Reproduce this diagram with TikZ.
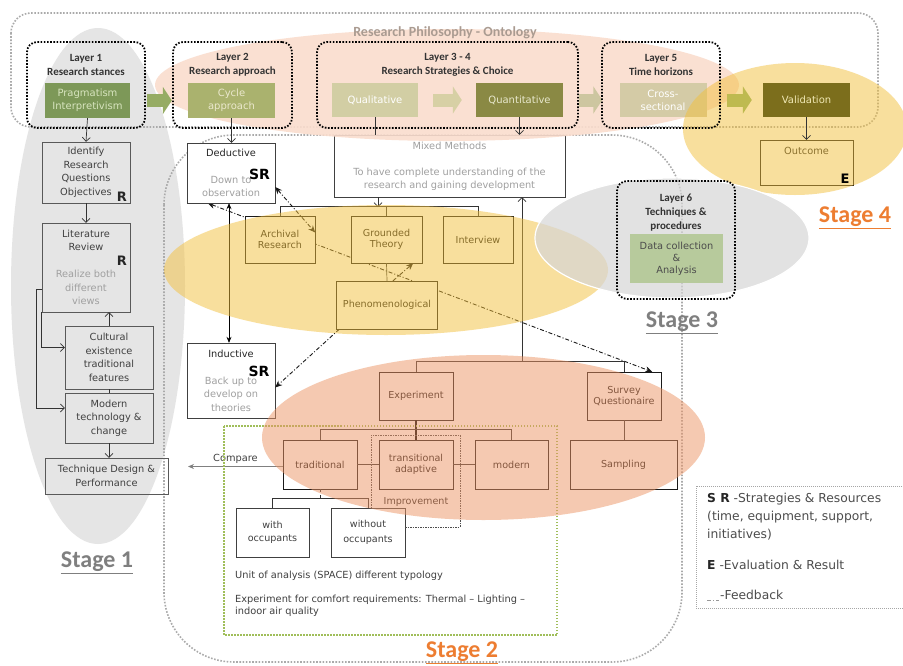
\documentclass[tikz,border=0pt]{standalone}
\usepackage{fontspec}
\setmainfont{DejaVu Sans}
\newfontfamily\calib{Carlito}
\usetikzlibrary{arrows.meta}

\definecolor{stagegray}{RGB}{229,229,229}
\definecolor{peach}{RGB}{250,221,206}
\definecolor{ovsalmon}{RGB}{237,148,100}
\definecolor{ovyellow}{RGB}{243,192,60}
\definecolor{ovgray}{RGB}{214,214,214}
\definecolor{stageorange}{RGB}{237,125,49}
\definecolor{labelgray}{RGB}{127,127,127}
\definecolor{txtgray}{RGB}{160,160,160}
\definecolor{dotgray}{RGB}{170,170,170}
\definecolor{philgray}{RGB}{170,155,145}
\definecolor{pragfill}{RGB}{125,152,88}
\definecolor{pragtext}{RGB}{215,228,190}
\definecolor{cyclefill}{RGB}{170,178,110}
\definecolor{cycletext}{RGB}{235,232,205}
\definecolor{qualfill}{RGB}{210,206,164}
\definecolor{quantfill}{RGB}{138,137,68}
\definecolor{quanttext}{RGB}{232,232,205}
\definecolor{crossfill}{RGB}{212,203,166}
\definecolor{validfill}{RGB}{124,110,28}
\definecolor{validtext}{RGB}{240,232,180}
\definecolor{datafill}{RGB}{183,202,156}
\definecolor{olivedots}{RGB}{160,190,90}
\definecolor{arrowgreen}{RGB}{150,172,100}
\definecolor{arrowpale}{RGB}{215,208,165}
\definecolor{arrowtan}{RGB}{205,198,160}
\definecolor{arrowlime}{RGB}{190,186,80}

\pgfdeclarelayer{back}
\pgfdeclarelayer{lines}
\pgfsetlayers{back,lines,main}

\begin{document}
\begin{tikzpicture}[x=1pt,y=-1pt,>={Straight Barb[length=4pt,width=8pt]},
  plainbox/.style={draw=black!75,fill=white,align=center,inner sep=1pt,text=black!75,font=\fontsize{9.8}{13.5}\selectfont},
  stagebox/.style={plainbox,fill=none,draw=black!65},
  smallbox/.style={plainbox,draw=black!90,text=black!90,font=\fontsize{9.6}{11}\selectfont},
  layerbox/.style={draw=black,line width=1.8pt,dash pattern=on 1.6pt off 1.6pt,rounded corners=10pt},
  layertext/.style={font=\calib\bfseries\fontsize{11}{14}\selectfont,text=black!80,align=center,inner sep=0pt},
  greenbox/.style={align=center,font=\fontsize{10}{13}\selectfont,inner sep=1pt},
  graydots/.style={draw=dotgray,line width=1.6pt,dash pattern=on 1.6pt off 1.6pt},
  blockarr/.style={line width=13pt,-{Triangle[width=27pt,length=9pt]}},
  conn/.style={draw=black!80,line width=0.7pt},
  feedback/.style={draw=black!90,line width=0.9pt,dash pattern=on 4pt off 2pt on 1pt off 2pt,>={Stealth[length=7pt,width=6pt]}},
  rmark/.style={font=\bfseries\fontsize{13}{13}\selectfont,text=black!85,inner sep=0pt},
  srmark/.style={font=\bfseries\fontsize{14}{14}\selectfont,text=black,inner sep=0pt},
  stagelabel/.style={font=\calib\bfseries\fontsize{24}{26}\selectfont,inner sep=0pt},
  legtext/.style={font=\fontsize{12.3}{18}\selectfont,text=black!70,anchor=west,inner sep=0pt}]

\useasboundingbox (0,0) rectangle (903,665);
\begin{pgfonlayer}{back}
  \fill[white] (0,0) rectangle (903,665);
  \fill[stagegray] (98,286) ellipse [x radius=87pt,y radius=258pt];
\end{pgfonlayer}

% dotted frames
\draw[graydots,rounded corners=20pt] (11,13) rectangle (878,127);
\draw[graydots,rounded corners=70pt] (164,135) rectangle (682,662);

% mixed methods, partly under the philosophy band
\node[plainbox,minimum width=231pt,minimum height=62pt,font=\fontsize{9.8}{13}\selectfont] (mixed) at (449.5,166)
  {\textcolor{txtgray}{Mixed Methods}\\[13pt]\textcolor{txtgray}{To have complete understanding of the}\\\textcolor{txtgray}{research and gaining development}};

\fill[peach,fill opacity=0.9] (447,85) ellipse [x radius=292pt,y radius=56pt];
\node[font=\calib\bfseries\fontsize{14}{16}\selectfont,text=philgray] (philo) at (445,33) {Research Philosophy - Ontology};

% layers 1 - 5
\node[layerbox,minimum width=118pt,minimum height=86pt] (lay1) at (86,85) {};
\node[layertext] (lay1t) at (86,65) {Layer 1\\Research stances};
\node[greenbox,fill=pragfill,text=pragtext,minimum width=85pt,minimum height=35pt] (prag) at (87.5,100.5) {Pragmatism\\Interpretivism};

\node[layerbox,minimum width=119pt,minimum height=86pt] (lay2) at (232.5,85) {};
\node[layertext] (lay2t) at (232.5,65) {Layer 2\\Research approach};
\node[greenbox,fill=cyclefill,text=cycletext,minimum width=87pt,minimum height=35pt] (cycle) at (231.5,100.5) {Cycle\\approach};

\node[layerbox,minimum width=261pt,minimum height=86pt] (lay34) at (447.5,85) {};
\node[layertext] (lay34t) at (447.5,65) {Layer 3 - 4\\Research Strategies \& Choice};
\node[greenbox,fill=qualfill,text=white,minimum width=86pt,minimum height=34pt] (qual) at (375,100) {Qualitative};
\node[greenbox,fill=quantfill,text=quanttext,minimum width=87pt,minimum height=34pt] (quant) at (519.5,100) {Quantitative};

\node[greenbox,fill=crossfill,text=white,minimum width=87pt,minimum height=34pt] (cross) at (663,100) {Cross-\\sectional};

\draw[blockarr,draw=arrowgreen,shorten <=17pt,shorten >=16pt] (prag) -- (cycle);
\draw[blockarr,draw=arrowpale,shorten <=15pt,shorten >=14pt] (qual) -- (quant);
\draw[blockarr,draw=arrowtan,shorten <=16pt,shorten >=17pt] (quant) -- (cross);

\draw[conn] (qual.south) -- (qual.south |- mixed.north);
\draw[conn,->] (quant.south) -- (quant.south |- mixed.north);

% stage 1 column
\node[stagebox,minimum width=88pt,minimum height=61pt] (ident) at (86,172.5) {Identify\\Research\\Questions\\Objectives};
\node[rmark] (identr) at (122,197) {R};
\node[stagebox,minimum width=88pt,minimum height=89pt] (lit) at (86,267.5)
  {Literature\\Review\\[13.5pt]\textcolor{txtgray}{Realize both}\\\textcolor{txtgray}{different}\\\textcolor{txtgray}{views}};
\node[rmark] (litr) at (122,261) {R};
\node[stagebox,minimum width=88pt,minimum height=63pt] (cult) at (109,357.5) {Cultural\\existence\\traditional\\features};
\node[stagebox,minimum width=88pt,minimum height=50pt] (modn) at (109,418) {Modern\\technology \&\\change};
\node[stagebox,minimum width=123pt,minimum height=36pt] (tech) at (106.5,476) {Technique Design \&\\Performance};

\draw[conn,->] (prag.south) -- (ident.north);
\draw[conn,->] (ident.south) -- (lit.north);
\draw[conn,->] (cult.north) -- (cult.north |- lit.south);
\draw[conn] (cult.south) -- (modn.north);
\draw[conn,->] (modn.south) -- (modn.south |- tech.north);
\draw[conn,->] (lit.south west) |- ([yshift=10pt]cult.west);
\draw[conn,->] ([yshift=-22pt]lit.west) -- ++(-5,0) |- ([yshift=10pt]modn.west);

% deductive / inductive
\node[plainbox,minimum width=88pt,minimum height=60pt,font=\fontsize{9.8}{13}\selectfont] (deduct) at (231,173)
  {\textcolor{black!85}{Deductive}\\[14pt]\textcolor{txtgray}{Down to}\\\textcolor{txtgray}{observation}};
\node[srmark] (deductsr) at (259.5,174) {SR};
\node[plainbox,minimum width=88pt,minimum height=75pt] (induct) at (231,380.5)
  {\textcolor{black!85}{Inductive}\\[13.5pt]\textcolor{txtgray}{Back up to}\\\textcolor{txtgray}{develop on}\\\textcolor{txtgray}{theories}};
\node[srmark] (inductsr) at (259,371) {SR};

\draw[conn,->] (cycle.south) -- (cycle.south |- deduct.north);
\draw[conn,draw=black,{Stealth[length=6pt,width=5pt]}-{Stealth[length=6pt,width=5pt]}] ([xshift=-2pt]deduct.south) -- ([xshift=-2pt]induct.north);

% stage 3 strategies
\node[smallbox,minimum width=70pt,minimum height=47pt] (archival) at (280,239.5) {Archival\\Research};
\node[smallbox,minimum width=71pt,minimum height=47pt] (grounded) at (386.5,239.5) {Grounded\\Theory};
\node[smallbox,minimum width=70pt,minimum height=47pt] (interview) at (478,239.5) {Interview};
\node[smallbox,minimum width=101pt,minimum height=48pt] (phenom) at (387,305) {Phenomenological};

\draw[conn] (archival.north) -- ++(0,-9) -| (interview.north);
\draw[conn] (grounded.north) -- ++(0,-9);
\draw[conn,->] ([xshift=-71.5pt]mixed.south) -- ++(0,10);
\draw[conn] (grounded.south) -- (phenom.north);

% stage 2 experiment tree
\node[smallbox,minimum width=74pt,minimum height=48pt] (experiment) at (416,396) {Experiment};
\node[smallbox,minimum width=74pt,minimum height=48pt] (survey) at (624,396) {Survey\\Questionaire};
\node[smallbox,minimum width=107pt,minimum height=49pt] (sampling) at (623.5,464.5) {Sampling};
\node[smallbox,minimum width=74pt,minimum height=49pt] (traditional) at (320,464.5) {traditional};
\node[smallbox,minimum width=74pt,minimum height=49pt] (transitional) at (416,464.5) {transitional\\adaptive};
\node[smallbox,minimum width=73pt,minimum height=49pt] (modern) at (511.5,464.5) {modern};
\node[plainbox,minimum width=73pt,minimum height=49pt,font=\fontsize{9.6}{12.5}\selectfont] (withocc) at (272.5,532.5) {with\\occupants};
\node[plainbox,minimum width=74pt,minimum height=49pt,font=\fontsize{9.6}{14.5}\selectfont] (withoutocc) at (368,532.5) {without\\occupants};

\draw[conn,<-] ([xshift=72.5pt]mixed.south) -- ++(0,165);
\draw[conn] (experiment.north) -- ++(0,-10) -| (survey.north);
\draw[conn] (survey.south) -- (survey.south |- sampling.north);
\draw[line width=2.2pt,black] (experiment.south) -- (transitional.north);
\draw[conn] (traditional.north) -- ++(0,-10) -| (modern.north);
\draw[conn] (traditional.east) -- (transitional.west);
\draw[conn] (transitional.east) -- (modern.west);
\draw[conn,dashed] (traditional.south) -- ++(0,10);
\draw[conn] (withocc.north) -- ++(0,-9) -| (withoutocc.north);

\draw[black!70,line width=0.6pt,dash pattern=on 1.5pt off 1pt] ([yshift=5.5pt]withoutocc.east) -| (460,435) -| (371,508);
\node[font=\fontsize{9.6}{11}\selectfont,text=black!85] (improve) at (416,502) {Improvement};

\coordinate (cmpend) at (188,466.5);
\draw[gray,line width=0.8pt,-{Stealth[length=6pt,width=5pt]}] ([yshift=-2pt]traditional.west) -- (cmpend)
  node[midway,above=-1pt,font=\fontsize{9.8}{11}\selectfont,text=black!75] (cmplabel) {Compare};

% unit of analysis frame
\draw[olivedots,line width=1.5pt,dash pattern=on 1.5pt off 1.5pt] (224,426) rectangle (557,635);
\node[font=\fontsize{9.8}{12}\selectfont,text=black!75,anchor=west,inner sep=0pt] (unitnote) at (235,576) {Unit of analysis (SPACE) different typology};
\node[font=\fontsize{9.8}{12}\selectfont,text=black!75,anchor=west,align=left,inner sep=0pt] (comfnote) at (235,606)
  {Experiment for comfort requirements: Thermal -- Lighting --\\indoor air quality};

% feedback lines
\begin{pgfonlayer}{lines}
  \draw[feedback,<->] ([xshift=21pt]deduct.south west) -- ([xshift=-9pt]survey.north east);
\end{pgfonlayer}
\draw[feedback,<->] ([yshift=-14pt]deduct.east) -- ([yshift=7pt]archival.east);
\draw[feedback,->] ([xshift=3pt]phenom.south west) -- ([yshift=-7pt]induct.east);
\draw[feedback,->] ([xshift=6pt]phenom.north) -- ([xshift=-9pt]grounded.south east);

% outcome, under the stage 4 band
\node[plainbox,draw=black!90,minimum width=93pt,minimum height=45pt] (outcome) at (806.5,162.5) {};
\node[font=\fontsize{9.8}{11}\selectfont,text=black!85] (outcomet) at (806.5,151) {Outcome};

% stage bands
\fill[ovyellow,fill opacity=0.5] (386,270) ellipse [x radius=222pt,y radius=65pt];
\fill[ovsalmon,fill opacity=0.5] (483.5,437.5) ellipse [x radius=221.5pt,y radius=82.5pt];
\fill[ovyellow,fill opacity=0.5] (795,129) ellipse [x radius=112pt,y radius=66pt];
\filldraw[fill=ovgray,fill opacity=0.7,draw=white,line width=1.2pt] (672,238) ellipse [x radius=137pt,y radius=60pt];

% layer 5 and validation
\node[layerbox,minimum width=118pt,minimum height=86pt] (lay5) at (661,85) {};
\node[layertext] (lay5t) at (661,65) {Layer 5\\Time horizons};
\node[greenbox,fill=validfill,text=validtext,minimum width=87pt,minimum height=34pt] (valid) at (806.5,100) {Validation};
\draw[blockarr,draw=arrowlime,shorten <=20pt,shorten >=11pt] (cross) -- (valid);
\draw[conn,->] (valid) -- (outcome);
\node[rmark,text=black] (outcomee) at (845,179) {E};

% layer 6
\node[layerbox,minimum width=118pt,minimum height=118pt] (lay6) at (676,240) {};
\node[layertext] (lay6t) at (676,213) {Layer 6\\Techniques \&\\procedures};
\node[greenbox,fill=datafill,text=black!70,minimum width=93pt,minimum height=49pt,font=\fontsize{9.8}{12}\selectfont] (datac) at (676.5,258.5) {Data collection\\\&\\Analysis};

% stage labels
\node[stagelabel,text=labelgray] (stage1) at (97,563) {\underline{Stage 1}};
\node[stagelabel,text=stageorange] (stage2) at (462,653) {\underline{Stage 2}};
\node[stagelabel,text=labelgray] (stage3) at (682,323) {\underline{Stage 3}};
\node[stagelabel,text=stageorange] (stage4) at (855,218) {\underline{Stage 4}};

% legend
\draw[gray!70,line width=0.6pt,dash pattern=on 1pt off 1pt] (696,486) rectangle (906,608);
\node[legtext] (leg1) at (707,499) {\textbf{\textcolor{black!85}{S R}} -Strategies \& Resources};
\node[legtext] (leg2) at (707,517) {(time, equipment, support,};
\node[legtext] (leg3) at (707,535) {initiatives)};
\node[legtext] (leg4) at (707,565) {\textbf{\textcolor{black!85}{E}} -Evaluation \& Result};
\node[legtext] (leg5) at (720,595) {-Feedback};
\draw[feedback,line width=0.5pt,draw=black!40] (707,600) -- (719,600);
\end{tikzpicture}
\end{document}
